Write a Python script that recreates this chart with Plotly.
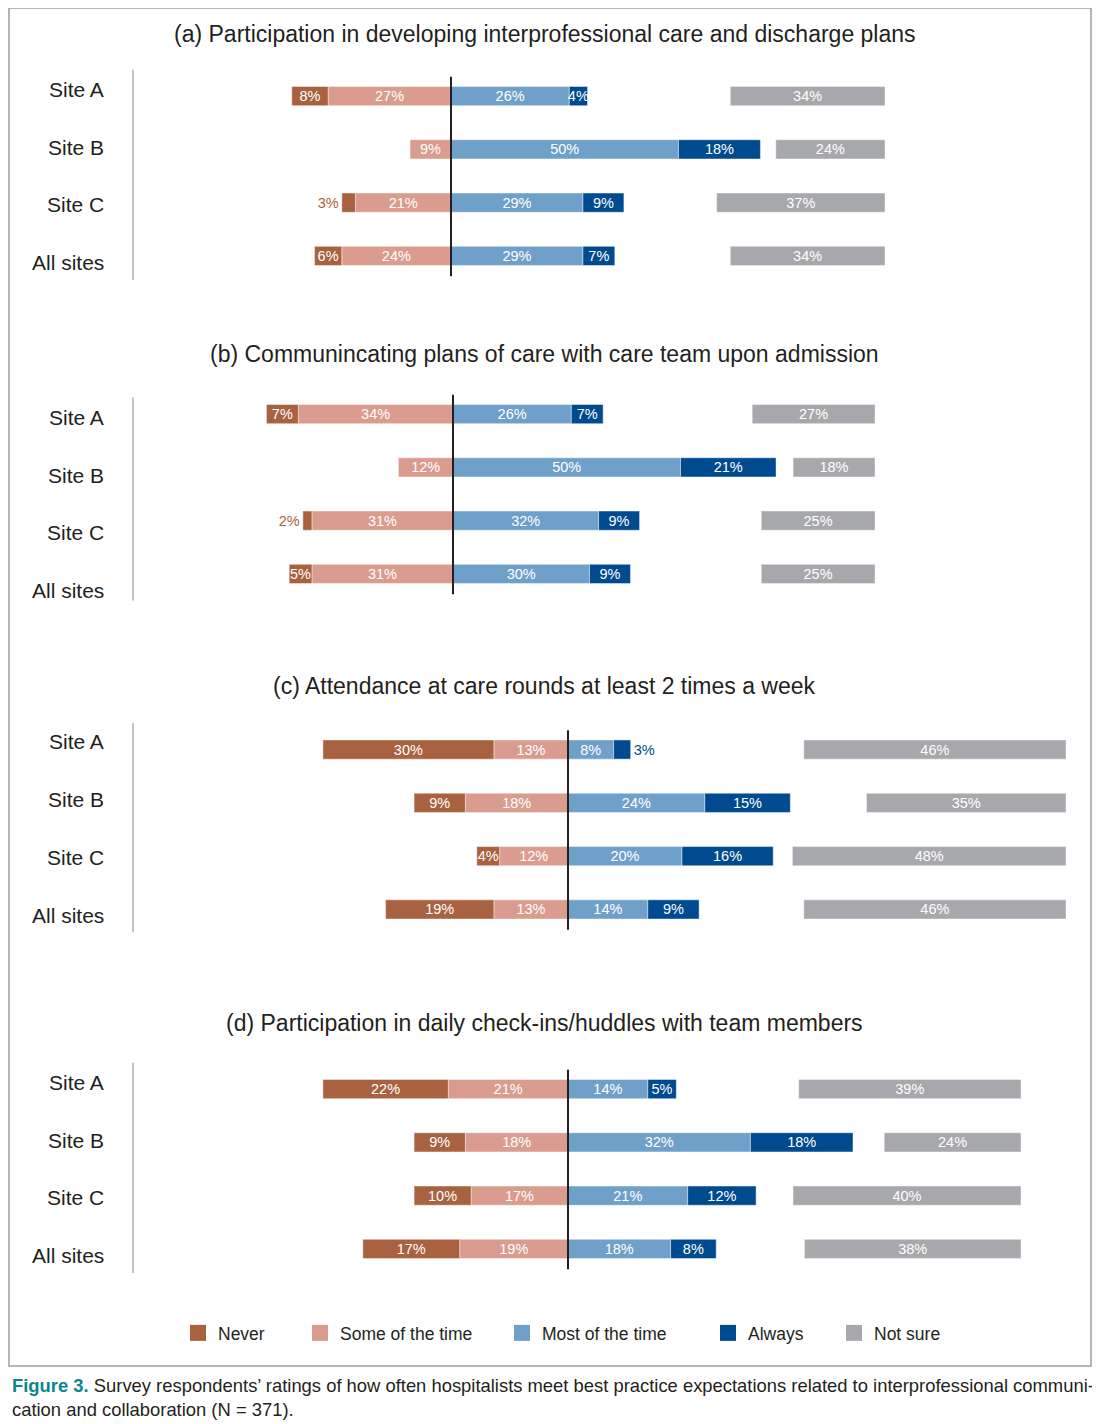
import plotly.graph_objects as go

# page has an 8px body margin, so the figure is drawn 8px in from the top-left
OFF = 8
W, H = 1092, 1416

# ---------------- data ----------------
sites = ["Site A", "Site B", "Site C", "All sites"]
categories = ["Never", "Some of the time", "Most of the time", "Always", "Not sure"]

titles = [
    "(a) Participation in developing interprofessional care and discharge plans",
    "(b) Communincating plans of care with care team upon admission",
    "(c) Attendance at care rounds at least 2 times a week",
    "(d) Participation in daily check-ins/huddles with team members",
]

never_a = [8, 0, 3, 6]
some_a = [27, 9, 21, 24]
most_a = [26, 50, 29, 29]
always_a = [4, 18, 9, 7]
notsure_a = [34, 24, 37, 34]

never_b = [7, 0, 2, 5]
some_b = [34, 12, 31, 31]
most_b = [26, 50, 32, 30]
always_b = [7, 21, 9, 9]
notsure_b = [27, 18, 25, 25]

never_c = [30, 9, 4, 19]
some_c = [13, 18, 12, 13]
most_c = [8, 24, 20, 14]
always_c = [3, 15, 16, 9]
notsure_c = [46, 35, 48, 46]

never_d = [22, 9, 10, 17]
some_d = [21, 18, 17, 19]
most_d = [14, 32, 21, 18]
always_d = [5, 18, 12, 8]
notsure_d = [39, 24, 40, 38]

panel_data = [
    (never_a, some_a, most_a, always_a, notsure_a),
    (never_b, some_b, most_b, always_b, notsure_b),
    (never_c, some_c, most_c, always_c, notsure_c),
    (never_d, some_d, most_d, always_d, notsure_d),
]

caption_bold = "Figure 3."
caption_text = ("Survey respondents’ ratings of how often hospitalists meet best practice expectations "
                "related to interprofessional communi-<br>cation and collaboration (N = 371).")

# ---------------- style / layout ----------------
colors = {
    "Never": "#a96240",
    "Some of the time": "#d99c8e",
    "Most of the time": "#6fa0ca",
    "Always": "#004b8f",
    "Not sure": "#a7a8ac",
}
FONT = "Liberation Sans, Arial, Helvetica, sans-serif"
TXT = "#231f20"
ROW = 53.3  # px per row


def px(xp):
    return (xp - OFF) / W


def py(yp):
    return 1 - (yp - OFF) / H


panel_layout = [
    dict(center=451, scale=4.55, ns_right=885, row_mid=176, title_y=34, label_shift=0.0),
    dict(center=453, scale=4.55, ns_right=875, row_mid=494, title_y=354, label_shift=0.19),
    dict(center=568, scale=5.7, ns_right=1066, row_mid=829.5, title_y=686, label_shift=-0.02),
    dict(center=568, scale=5.7, ns_right=1021, row_mid=1169, title_y=1023, label_shift=0.0),
]


def sfx(n):
    return "" if n == 1 else str(n)


fig = go.Figure()
layout = {}
annotations = []
shapes = []
rows = list(range(len(sites)))
XL, XR = 140, 1095

for k, (pl, data) in enumerate(zip(panel_layout, panel_data), start=1):
    never, some, most, always, notsure = data
    xm = 2 * k - 1
    xn = 2 * k
    ya = f"y{sfx(k)}"
    c, s, r, mid = pl["center"], pl["scale"], pl["ns_right"], pl["row_mid"]

    layout[f"xaxis{sfx(xm)}"] = dict(domain=[px(XL), px(XR)], range=[-(c - XL) / s, (XR - c) / s],
                                     anchor=ya, visible=False, fixedrange=True)
    layout[f"xaxis{sfx(xn)}"] = dict(domain=[px(r - 65 * s), px(r)], range=[65, 0],
                                     anchor=ya, visible=False, fixedrange=True)
    layout[f"yaxis{sfx(k)}"] = dict(domain=[py(mid + 2 * ROW), py(mid - 2 * ROW)],
                                    range=[3.5, -0.5], anchor=f"x{sfx(xm)}", visible=False, fixedrange=True)

    for cat, vals, sign in [("Some of the time", some, -1), ("Never", never, -1),
                            ("Most of the time", most, 1), ("Always", always, 1)]:
        fig.add_trace(go.Bar(
            x=[sign * v for v in vals], y=rows, orientation="h",
            xaxis=f"x{sfx(xm)}", yaxis=ya,
            width=0.36,
            marker=dict(color=colors[cat], line=dict(color="rgba(255,255,255,0.55)", width=0.8)),
            text=[f"{v}%" if v > 0 else "" for v in vals],
            textposition=["outside" if 0 < v <= 3 else "inside" for v in vals],
            insidetextanchor="middle", textangle=0,
            insidetextfont=dict(color="white", size=14.5, family=FONT),
            outsidetextfont=dict(color=colors[cat], size=14.5, family=FONT),
            cliponaxis=False, showlegend=False, hoverinfo="skip", name=cat,
        ))
    fig.add_trace(go.Bar(
        x=notsure, y=rows, orientation="h",
        xaxis=f"x{sfx(xn)}", yaxis=ya, width=0.36,
        marker=dict(color=colors["Not sure"], line=dict(color="rgba(255,255,255,0.55)", width=0.8)),
        text=[f"{v}%" for v in notsure], textposition="inside",
        insidetextanchor="middle", textangle=0,
        insidetextfont=dict(color="white", size=14.5, family=FONT),
        cliponaxis=False, showlegend=False, hoverinfo="skip", name="Not sure",
    ))

    # panel title
    annotations.append(dict(text=titles[k - 1], xref="paper", yref="paper",
                            x=px(544.5), y=py(pl["title_y"]), xanchor="center", yanchor="middle",
                            showarrow=False, font=dict(size=23, color=TXT, family=FONT)))
    # site labels
    sh = pl["label_shift"]
    for i, lab in enumerate(sites):
        annotations.append(dict(text=lab, xref="paper", yref=ya,
                                x=px(106), y=1.5 + (i - 1.5) * 1.083 + sh,
                                xanchor="right", yanchor="middle", showarrow=False,
                                font=dict(size=21, color=TXT, family=FONT)))
    # gray vertical axis line near labels
    shapes.append(dict(type="line", xref="paper", yref=ya, x0=px(133), x1=px(133),
                       y0=-0.5 + sh, y1=3.45 + sh, line=dict(color="#9a9a9a", width=1.2)))
    # black zero line
    shapes.append(dict(type="line", xref=f"x{sfx(xm)}", yref=ya, x0=0, x1=0,
                       y0=-0.36, y1=3.38, line=dict(color=TXT, width=2)))

# frame
shapes.append(dict(type="rect", xref="paper", yref="paper", x0=px(9), x1=px(1091),
                   y0=py(1366), y1=py(8), line=dict(color="#9d9d9d", width=1.5)))

# caption
annotations.append(dict(
    text=f"<b><span style='color:#0a878c'>{caption_bold}</span></b> {caption_text}",
    xref="paper", yref="paper", x=px(10), y=py(1373), xanchor="left", yanchor="top",
    align="left", showarrow=False, font=dict(size=18.4, color=TXT, family=FONT)))

# legend (one legend per entry for exact placement)
legend_left_px = [190, 312, 514, 720, 846]
for j, cat in enumerate(categories):
    lname = "legend" if j == 0 else f"legend{j + 1}"
    fig.add_trace(go.Scatter(x=[None], y=[None], mode="markers", name=cat,
                             marker=dict(symbol="square", size=16, color=colors[cat]),
                             legend=lname, showlegend=True, hoverinfo="skip"))
    layout[lname] = dict(x=px(legend_left_px[j] - 12), xanchor="left", y=py(1333), yanchor="middle",
                         orientation="h", bgcolor="rgba(0,0,0,0)", borderwidth=0, itemsizing="trace",
                         font=dict(size=17.5, color=TXT, family=FONT))

fig.update_layout(
    width=W, height=H,
    margin=dict(l=0, r=0, t=0, b=0),
    paper_bgcolor="white", plot_bgcolor="rgba(0,0,0,0)",
    barmode="relative",
    uniformtext=dict(minsize=14.5, mode="show"),
    annotations=annotations, shapes=shapes,
    font=dict(family=FONT, color=TXT),
    **layout,
)

fig.write_html("out.html")
